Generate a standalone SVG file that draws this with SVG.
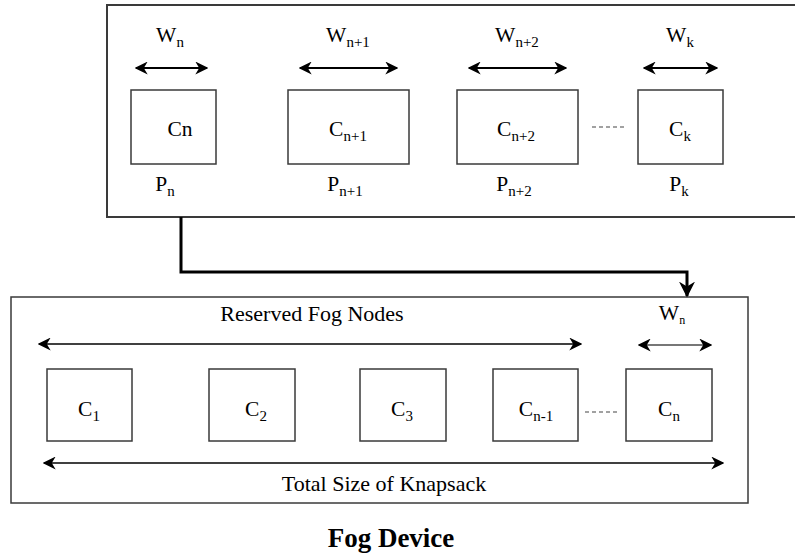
<svg xmlns="http://www.w3.org/2000/svg" width="795" height="556" viewBox="0 0 795 556">
<defs>
<marker id="ahg" viewBox="0 0 10 10" refX="9" refY="5" markerWidth="13" markerHeight="13" orient="auto-start-reverse" markerUnits="userSpaceOnUse">
<path d="M0,0 L10,5 L0,10 L3,5 z" fill="#000"/>
</marker>
<marker id="big" viewBox="0 0 10 10" refX="9" refY="5" markerWidth="16" markerHeight="16" orient="auto" markerUnits="userSpaceOnUse">
<path d="M0,0 L10,5 L0,10 L3,5 z" fill="#000"/>
</marker>
</defs>
<style>
text{font-family:"Liberation Serif","Times New Roman",serif;fill:#000;font-size:21.5px}
.sub{font-size:15px}
.tiny{font-size:12px}
.lbl{font-size:22px}
.title{font-size:27px;font-weight:bold}
.frame{fill:#fff;stroke:#3a3a3a;stroke-width:2}
.box{fill:#fff;stroke:#3a3a3a;stroke-width:1.5}
.arr{stroke:#000;stroke-width:2;fill:none;marker-start:url(#ahg);marker-end:url(#ahg)}
.dash{stroke:#444;stroke-width:1.2;stroke-dasharray:4 3}
</style>
<rect width="795" height="556" fill="#fff"/>
<g id="topFrame"><rect class="frame" x="107" y="5" width="690" height="212"/></g>
<g id="bottomFrame"><rect class="frame" x="11" y="297" width="737" height="206" style="stroke-width:1.5"/></g>

<g id="connectors">
<path d="M181,217 V272 H687 V296" stroke="#000" stroke-width="3" fill="none" marker-end="url(#big)"/>
<line class="arr" x1="136" y1="68" x2="207" y2="68"/>
<line class="arr" x1="300" y1="68" x2="397" y2="68"/>
<line class="arr" x1="469" y1="68" x2="566" y2="68"/>
<line class="arr" x1="644" y1="68" x2="717" y2="68"/>
<line class="arr" x1="39" y1="344" x2="581" y2="344" style="stroke-width:1.5"/>
<line class="arr" x1="44" y1="463" x2="723" y2="463" style="stroke-width:1.5"/>
<line class="arr" x1="639" y1="345" x2="711" y2="345" style="stroke:#777"/>
<line class="dash" x1="592" y1="127" x2="625" y2="127"/>
<line class="dash" x1="585" y1="412" x2="618" y2="412"/>
</g>

<g id="Wlabels">
<text x="170" y="42" text-anchor="middle">W<tspan class="sub" dy="5">n</tspan></text>
<text x="348" y="42" text-anchor="middle">W<tspan class="sub" dy="5">n+1</tspan></text>
<text x="517" y="42" text-anchor="middle">W<tspan class="sub" dy="5">n+2</tspan></text>
<text x="680" y="42" text-anchor="middle">W<tspan class="sub" dy="5">k</tspan></text>
</g>

<g id="Cn"><rect class="box" x="131" y="90" width="85" height="74"/><text x="180" y="136" text-anchor="middle">Cn</text></g>
<g id="Cn1"><rect class="box" x="288" y="90" width="121" height="74"/><text x="348" y="136" text-anchor="middle">C<tspan class="sub" dy="5">n+1</tspan></text></g>
<g id="Cn2"><rect class="box" x="457" y="90" width="121" height="74"/><text x="516" y="136" text-anchor="middle">C<tspan class="sub" dy="5">n+2</tspan></text></g>
<g id="Ck"><rect class="box" x="638" y="90" width="85" height="74"/><text x="680" y="136" text-anchor="middle">C<tspan class="sub" dy="5">k</tspan></text></g>

<g id="Plabels">
<text x="165" y="191" text-anchor="middle">P<tspan class="sub" dy="5">n</tspan></text>
<text x="345" y="191" text-anchor="middle">P<tspan class="sub" dy="5">n+1</tspan></text>
<text x="514" y="191" text-anchor="middle">P<tspan class="sub" dy="5">n+2</tspan></text>
<text x="679" y="191" text-anchor="middle">P<tspan class="sub" dy="5">k</tspan></text>
</g>

<g id="bottomLabels">
<text class="lbl" x="312" y="321" text-anchor="middle">Reserved Fog Nodes</text>
<text x="672" y="320" text-anchor="middle">W<tspan class="tiny" dy="4">n</tspan></text>
<text class="lbl" x="384" y="491" text-anchor="middle">Total Size of Knapsack</text>
</g>

<g id="C1"><rect class="box" x="47" y="369" width="85" height="72"/><text x="89" y="416" text-anchor="middle">C<tspan class="sub" dy="5">1</tspan></text></g>
<g id="C2"><rect class="box" x="209" y="369" width="86" height="72"/><text x="256" y="416" text-anchor="middle">C<tspan class="sub" dy="5">2</tspan></text></g>
<g id="C3"><rect class="box" x="360" y="369" width="86" height="72"/><text x="402" y="416" text-anchor="middle">C<tspan class="sub" dy="5">3</tspan></text></g>
<g id="Cnm1"><rect class="box" x="493" y="369" width="85" height="72"/><text x="536" y="416" text-anchor="middle">C<tspan class="sub" dy="5">n-1</tspan></text></g>
<g id="Cnb"><rect class="box" x="626" y="369" width="86" height="72"/><text x="669" y="416" text-anchor="middle">C<tspan class="sub" dy="5">n</tspan></text></g>

<g id="title"><text class="title" x="391" y="547" text-anchor="middle">Fog Device</text></g>
</svg>
